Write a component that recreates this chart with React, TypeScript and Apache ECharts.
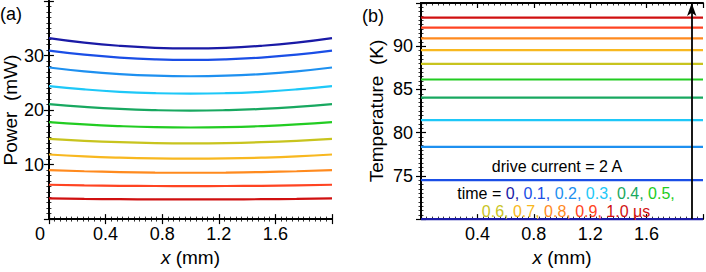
import React, { useEffect, useRef } from "react";
import * as echarts from "echarts";

// ---------- data ----------
const times = ["0", "0.1", "0.2", "0.3", "0.4", "0.5", "0.6", "0.7", "0.8", "0.9", "1.0"];
const colors = [
  "#1a1aa6", "#1a4ee6", "#1e90f0", "#1ec8f8", "#18a860", "#22cc22",
  "#c8c41e", "#f8b820", "#ff8a1e", "#ff4422", "#d01010",
];

// panel (a): power along x (mm)
const xsA = [0, 0.25, 0.5, 0.75, 1, 1.25, 1.5, 1.75, 2];
const powerT00 = [33.2, 32.37, 31.78, 31.42, 31.3, 31.42, 31.78, 32.37, 33.2];
const powerT01 = [30.9, 30.16, 29.63, 29.31, 29.2, 29.31, 29.63, 30.16, 30.9];
const powerT02 = [27.8, 27.1, 26.6, 26.3, 26.2, 26.3, 26.6, 27.1, 27.8];
const powerT03 = [24.4, 23.79, 23.35, 23.09, 23.0, 23.09, 23.35, 23.79, 24.4];
const powerT04 = [21.1, 20.58, 20.2, 19.98, 19.9, 19.98, 20.2, 20.58, 21.1];
const powerT05 = [17.8, 17.36, 17.05, 16.86, 16.8, 16.86, 17.05, 17.36, 17.8];
const powerT06 = [14.7, 14.35, 14.1, 13.95, 13.9, 13.95, 14.1, 14.35, 14.7];
const powerT07 = [11.85, 11.5, 11.27, 11.14, 11.1, 11.14, 11.27, 11.5, 11.85];
const powerT08 = [9.0, 8.78, 8.63, 8.53, 8.5, 8.53, 8.63, 8.78, 9.0];
const powerT09 = [6.3, 6.19, 6.11, 6.07, 6.05, 6.07, 6.11, 6.19, 6.3];
const powerT10 = [3.8, 3.71, 3.65, 3.61, 3.6, 3.61, 3.65, 3.71, 3.8];
const powerA = [powerT00, powerT01, powerT02, powerT03, powerT04, powerT05, powerT06, powerT07, powerT08, powerT09, powerT10];

// panel (b): temperature (K), uniform along x
const xsB = [0, 2];
const tempB = [70.0, 74.5, 78.35, 81.45, 84.05, 86.15, 87.95, 89.55, 90.9, 92.15, 93.3];
const arrowX = [1.92];
const arrowY = [70, 95];

const xTicksA = [0, 0.4, 0.8, 1.2, 1.6];
const yTicksA = [10, 20, 30];
const xTicksB = [0.4, 0.8, 1.2, 1.6];
const yTicksB = [75, 80, 85, 90];

const FONT = "'Liberation Sans', Arial, Helvetica, sans-serif";

export default function App() {
  const ref = useRef<HTMLDivElement>(null);
  useEffect(() => {
    if (!ref.current) return;
    const chart = echarts.init(ref.current, null, { renderer: "svg" });

    const tickStyle = { inside: true, length: 5, lineStyle: { color: "#000", width: 1.2 } };
    const minorStyle = { show: true, splitNumber: 10, length: 2.5, lineStyle: { color: "#000", width: 0.8 } };
    const lineSt = { show: true, lineStyle: { color: "#000", width: 2 } };
    const labelBase = { color: "#000", fontSize: 18, fontFamily: FONT };

    const xAxisDef = (gridIndex: number, shown: number[], pos: "bottom" | "top", withLabel: boolean) => ({
      type: "value",
      gridIndex,
      position: pos,
      min: 0,
      max: 2,
      interval: 0.4,
      axisLine: lineSt,
      axisTick: tickStyle,
      minorTick: minorStyle,
      splitLine: { show: false },
      axisLabel: withLabel
        ? {
            ...labelBase,
            margin: 6,
            formatter: (v: number) => {
              const r = Math.round(v * 10) / 10;
              if (!shown.some((t) => Math.abs(t - r) < 1e-6)) return "";
              if (r === 0) return "{z|0}";
              return r.toFixed(1);
            },
            rich: { z: { fontSize: 18, fontFamily: FONT, color: "#000", padding: [0, 18, 0, 0] } },
          }
        : { show: false },
      name: withLabel ? "{i|x} (mm)" : "",
      nameLocation: "middle",
      nameGap: 28,
      nameTextStyle: {
        color: "#000",
        fontSize: 19,
        fontFamily: FONT,
        rich: { i: { fontStyle: "italic", fontSize: 19, fontFamily: FONT, color: "#000" } },
      },
    });

    const yAxisDef = (
      gridIndex: number, min: number, max: number, interval: number, shown: number[],
      pos: "left" | "right", withLabel: boolean, name: string, nameGap: number, margin: number
    ) => ({
      type: "value",
      gridIndex,
      position: pos,
      min,
      max,
      interval,
      axisLine: lineSt,
      axisTick: tickStyle,
      minorTick: minorStyle,
      splitLine: { show: false },
      axisLabel: withLabel
        ? {
            ...labelBase,
            margin,
            formatter: (v: number) => (shown.includes(Math.round(v)) ? String(Math.round(v)) : ""),
          }
        : { show: false },
      name: withLabel ? name : "",
      nameLocation: "middle",
      nameGap,
      nameTextStyle: { color: "#000", fontSize: 19, fontFamily: FONT },
    });

    const seriesA = powerA.map((vals, i) => ({
      type: "line",
      xAxisIndex: 0,
      yAxisIndex: 0,
      data: xsA.map((x, k) => [x, vals[k]]),
      smooth: true,
      showSymbol: false,
      symbol: "none",
      lineStyle: { color: colors[i], width: 2.2 },
      z: 3,
    }));

    const seriesB = tempB.map((t, i) => ({
      type: "line",
      xAxisIndex: 2,
      yAxisIndex: 2,
      data: xsB.map((x) => [x, t]),
      showSymbol: false,
      symbol: "none",
      clip: false,
      lineStyle: { color: colors[i], width: 2.2 },
      z: 3,
    }));

    const arrowSeries = {
      type: "line",
      xAxisIndex: 2,
      yAxisIndex: 2,
      data: [],
      symbol: "none",
      markLine: {
        silent: true,
        animation: false,
        symbol: ["none", "arrow"],
        symbolSize: [7, 13],
        label: { show: false },
        lineStyle: { color: "#000", width: 1.8, type: "solid" },
        data: [[{ coord: [arrowX[0], arrowY[0]] }, { coord: [arrowX[0], arrowY[1]] }]],
      },
      z: 4,
    };

    const timeLine1 =
      "{k|time = }" +
      [0, 1, 2, 3, 4, 5].map((i) => `{c${i}|${times[i]},}`).join("{k| }");
    const timeLine2 =
      [6, 7, 8, 9].map((i) => `{c${i}|${times[i]},}`).join("{k| }") + `{k| }{c10|${times[10]} μs}`;
    const rich: Record<string, any> = { k: { fill: "#000", fontSize: 16, fontFamily: FONT } };
    colors.forEach((c, i) => {
      rich["c" + i] = { fill: c, fontSize: 16, fontFamily: FONT };
    });

    chart.setOption({
      animation: false,
      backgroundColor: "#fff",
      grid: [
        { left: 48, top: 1, width: 284, height: 222 },
        { left: 421, top: 3, width: 284, height: 222 },
      ],
      xAxis: [
        xAxisDef(0, xTicksA, "bottom", true),
        xAxisDef(0, [], "top", false),
        xAxisDef(1, xTicksB, "bottom", true),
        xAxisDef(1, [], "top", false),
      ],
      yAxis: [
        yAxisDef(0, 0, 40, 10, yTicksA, "left", true, "Power  (mW)", 26, 5),
        yAxisDef(0, 0, 40, 10, [], "right", false, "", 0, 5),
        yAxisDef(1, 70, 95, 5, yTicksB, "left", true, "Temperature  (K)", 35, 8),
        yAxisDef(1, 70, 95, 5, [], "right", false, "", 0, 5),
      ],
      series: [...seriesA, ...seriesB, arrowSeries],
      graphic: [
        { type: "text", x: 0, y: 14, style: { text: "(a)", fontSize: 18, fontFamily: FONT, fill: "#000", verticalAlign: "middle" } },
        { type: "text", x: 362, y: 16, style: { text: "(b)", fontSize: 18, fontFamily: FONT, fill: "#000", verticalAlign: "middle" } },
        { type: "text", x: 557, y: 166, z: 10, style: { text: "drive current = 2 A", fontSize: 16, fontFamily: FONT, fill: "#000", align: "center", verticalAlign: "middle" } },
        { type: "text", x: 566, y: 193, z: 10, style: { text: timeLine1, rich, fontSize: 16, fontFamily: FONT, fill: "#000", align: "center", verticalAlign: "middle" } },
        { type: "text", x: 566, y: 211, z: 10, style: { text: timeLine2, rich, fontSize: 16, fontFamily: FONT, fill: "#000", align: "center", verticalAlign: "middle" } },
      ],
    });

    return () => chart.dispose();
  }, []);

  return (
    <div
      ref={ref}
      style={{ position: "fixed", left: 0, top: 0, width: 706, height: 272, background: "#fff" }}
    />
  );
}
